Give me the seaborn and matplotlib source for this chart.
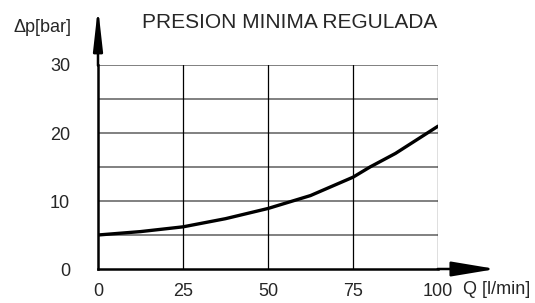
import matplotlib
matplotlib.use("Agg")
import matplotlib.pyplot as plt
import seaborn as sns

# caudal Q [l/min] vs caida de presion [bar]
caudal = [0, 12.5, 25, 37.5, 50, 62.5, 75, 80, 87.5, 100]
presion = [5.0, 5.5, 6.2, 7.4, 8.9, 10.8, 13.5, 15.0, 17.0, 21.0]

x_ticks = [0, 25, 50, 75, 100]
y_ticks = [0, 10, 20, 30]
y_grid = [5, 10, 15, 20, 25, 30]

sns.set_style("white")
plt.rcParams["font.family"] = ["Liberation Sans", "DejaVu Sans"]

fig = plt.figure(figsize=(5.35, 3.03), dpi=100)
ax = fig.add_axes([98 / 535, 34 / 303, 340 / 535, 204 / 303])

for y in y_grid:
    ax.axhline(y, color="#808080", lw=1.4, zorder=1)
for x in x_ticks[1:]:
    ax.axvline(x, color="black", lw=0.9, zorder=1)

sns.lineplot(x=caudal, y=presion, color="black", lw=2.4, ax=ax, zorder=3)

ax.set_xlim(0, 100)
ax.set_ylim(0, 30)
ax.set_xticks(x_ticks)
ax.set_yticks(y_ticks)
ax.tick_params(axis="both", length=0, labelsize=13)
ax.tick_params(axis="x", pad=10)
ax.tick_params(axis="y", pad=20)

for side in ["top", "right"]:
    ax.spines[side].set_visible(False)
for side in ["left", "bottom"]:
    ax.spines[side].set_color("black")
    ax.spines[side].set_linewidth(1.8)
    ax.spines[side].set_zorder(4)

# flechas de los ejes
ax.annotate("", xy=(0, 38.5), xytext=(0, 29.9), annotation_clip=False,
            arrowprops=dict(arrowstyle="-|>,head_length=2.5,head_width=0.28",
                            color="black", lw=1.8, shrinkA=0, shrinkB=0))
ax.annotate("", xy=(117, 0), xytext=(99.9, 0), annotation_clip=False,
            arrowprops=dict(arrowstyle="-|>,head_length=2.7,head_width=0.45",
                            color="black", lw=1.8, shrinkA=0, shrinkB=0))

fig.text(290 / 535, 1 - 22 / 303, "PRESION MINIMA REGULADA",
         ha="center", va="center", fontsize=15)
fig.text(72 / 535, 1 - 27 / 303, "\u0394p[bar]", ha="right", va="center",
         fontsize=13)
fig.text(463 / 535, 1 - 290 / 303, "Q [l/min]", ha="left", va="center",
         fontsize=13)

fig.savefig("out.png", dpi=100)
